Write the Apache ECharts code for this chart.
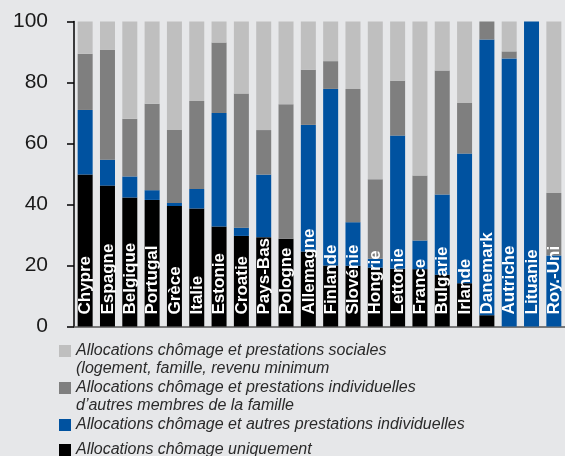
<!DOCTYPE html>
<html>
<head>
<meta charset="utf-8">
<script src="https://cdn.jsdelivr.net/npm/echarts@6/dist/echarts.min.js"></script>
<style>
html,body{margin:0;padding:0;background:#e6e7e9;}
#chart{width:565px;height:456px;}
</style>
</head>
<body>
<div id="chart"></div>
<script>
const categories = ['Chypre','Espagne','Belgique','Portugal','Grèce','Italie','Estonie','Croatie','Pays-Bas','Pologne','Allemagne','Finlande','Slovénie','Hongrie','Lettonie','France','Bulgarie','Irlande','Danemark','Autriche','Lituanie','Roy.-Uni'];
const seriesNames = [
  'Allocations chômage uniquement',
  'Allocations chômage et autres prestations individuelles',
  'Allocations chômage et prestations individuelles\nd’autres membres de la famille',
  'Allocations chômage et prestations sociales\n(logement, famille, revenu minimum'
];
const onlyUnemployment = [49.8,46.2,42.3,41.5,39.5,38.7,32.8,29.7,29.3,28.8,24.6,20.0,19.9,19.3,18.9,18.8,17.0,14.2,3.7,0,0,0];
const otherIndividual  = [21.2,8.5,6.9,3.2,1.0,6.4,37.2,2.7,20.5,0,41.5,57.9,14.3,2.9,43.7,9.4,26.3,42.5,90.4,87.9,100,23.3];
const familyMembers    = [18.4,36.0,18.9,28.3,23.9,28.8,23.1,44.0,14.6,44.1,18.1,9.1,43.7,26.1,18.0,21.3,40.6,16.6,5.9,2.3,0,20.5];
const socialBenefits   = [10.6,9.3,31.9,27.0,35.6,26.1,6.9,23.6,35.6,27.1,15.8,13.0,22.1,51.7,19.4,50.5,16.1,26.7,0,9.8,0,56.2];
const yTicks = [0,20,40,60,80,100];

const colors = ['#000000','#0052a0','#7f7f7f','#bfbfbf'];
const valueSets = [onlyUnemployment, otherIndividual, familyMembers, socialBenefits];

const chart = echarts.init(document.getElementById('chart'));

const barSeries = valueSets.map((vals, k) => ({
  name: seriesNames[k],
  type: 'bar',
  stack: 'total',
  barWidth: 15,
  data: vals,
  itemStyle: {color: colors[k]},
  emphasis: {disabled: true}
}));

const labelSeries = {
  type: 'custom',
  z: 10,
  silent: true,
  data: categories.map((c, i) => [i, 0]),
  encode: {x: 0, y: 1},
  renderItem: function (params, api) {
    const p = api.coord([api.value(0), api.value(1)]);
    return {
      type: 'text',
      x: p[0] + 0.5,
      y: p[1] - 12,
      rotation: Math.PI / 2,
      style: {
        text: categories[params.dataIndex],
        fill: '#ffffff',
        font: 'bold 17px "Liberation Sans", Arial, sans-serif',
        align: 'left',
        verticalAlign: 'middle'
      }
    };
  }
};

// icon for two-line legend entries: square aligned with the first text line
const topSquareIcon = 'path://M0,0L0.01,0M0,3L12,3L12,15L0,15ZM0,36L0.01,36';

function legendFor(k, top, twoLine) {
  return {
    data: [seriesNames[k]],
    orient: 'vertical',
    left: 59,
    top: top,
    padding: 0,
    itemWidth: 12,
    itemHeight: twoLine ? 36 : 12,
    icon: twoLine ? topSquareIcon : 'rect',
    selectedMode: false,
    textStyle: {
      fontFamily: '"Liberation Sans", Arial, sans-serif',
      fontSize: 16,
      fontStyle: 'italic',
      color: '#2a2a2a',
      lineHeight: 18
    }
  };
}

const option = {
  backgroundColor: '#e6e7e9',
  animation: false,
  grid: {left: 74, right: -3, top: 21.5, bottom: 129.5, containLabel: false},
  legend: [
    legendFor(3, 342, true),
    legendFor(2, 379, true),
    legendFor(1, 416, false),
    legendFor(0, 441, false)
  ],
  xAxis: {
    type: 'category',
    data: categories,
    axisLabel: {show: false},
    axisTick: {show: false},
    axisLine: {show: true, lineStyle: {color: '#555555', width: 1.5}}
  },
  yAxis: {
    type: 'value',
    min: yTicks[0],
    max: yTicks[yTicks.length - 1],
    interval: 20,
    splitLine: {show: false},
    axisLine: {show: true, lineStyle: {color: '#000000', width: 1.5}},
    axisTick: {show: true, length: 7, lineStyle: {color: '#000000', width: 1.5}},
    axisLabel: {
      margin: 26,
      fontSize: 21,
      fontFamily: '"Liberation Sans", Arial, sans-serif',
      color: '#1a1a1a'
    }
  },
  series: barSeries.concat([labelSeries])
};

chart.setOption(option);
</script>
</body>
</html>
